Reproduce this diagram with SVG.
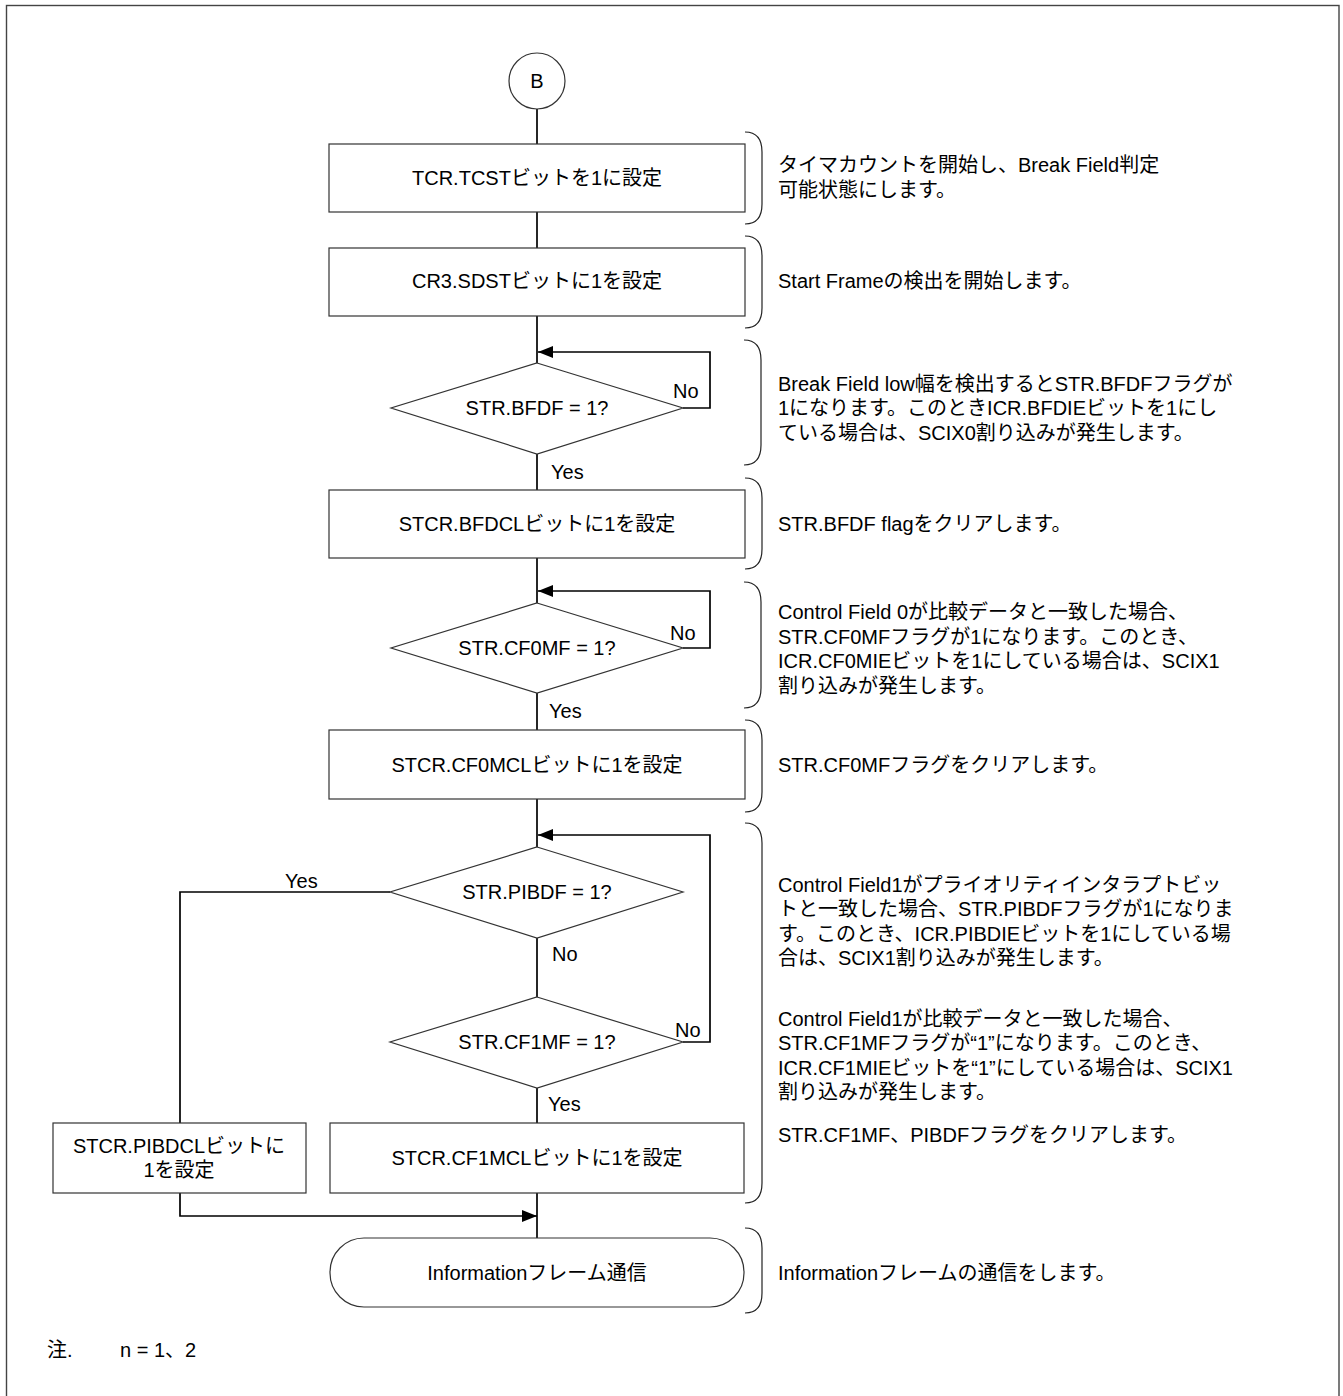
<svg xmlns="http://www.w3.org/2000/svg" width="1343" height="1396" viewBox="0 0 1343 1396">
<defs>
<marker id="arr" markerUnits="userSpaceOnUse" markerWidth="16" markerHeight="12" refX="15" refY="6" orient="auto">
<path d="M0,0 L15,6 L0,12 Z" fill="#000"/>
</marker>
<style>
text{font-family:"Liberation Sans","Noto Sans CJK JP",sans-serif;font-size:20px;fill:#000}
.c{text-anchor:middle}
.shape{fill:#fff;stroke:#333;stroke-width:1.2}
.line{fill:none;stroke:#000;stroke-width:1.7}
.brace{fill:none;stroke:#222;stroke-width:1.2}
.frame{fill:none;stroke:#444;stroke-width:1.4}
</style>
</defs>
<rect class="frame" x="6.5" y="5.5" width="1332.5" height="1420"/>

<g id="connectors">
<line class="line" x1="537" y1="109" x2="537" y2="144"/>
<line class="line" x1="537" y1="212" x2="537" y2="248"/>
<line class="line" x1="537" y1="316" x2="537" y2="363"/>
<line class="line" x1="537" y1="454" x2="537" y2="490"/>
<line class="line" x1="537" y1="558" x2="537" y2="603"/>
<line class="line" x1="537" y1="693" x2="537" y2="730"/>
<line class="line" x1="537" y1="799" x2="537" y2="847"/>
<line class="line" x1="537" y1="938" x2="537" y2="997"/>
<line class="line" x1="537" y1="1088" x2="537" y2="1123"/>
<line class="line" x1="537" y1="1193" x2="537" y2="1238"/>
<path class="line" d="M683,408 H710 V352 H538" marker-end="url(#arr)"/>
<path class="line" d="M683,648 H710 V591 H538" marker-end="url(#arr)"/>
<path class="line" d="M683,1042 H710 V835 H538" marker-end="url(#arr)"/>
<path class="line" d="M390,892 H180 V1123"/>
<path class="line" d="M180,1193 V1216 H537" marker-end="url(#arr)"/>
<text x="673" y="398">No</text>
<text x="551" y="479">Yes</text>
<text x="670" y="640">No</text>
<text x="549" y="718">Yes</text>
<text x="285" y="888">Yes</text>
<text x="552" y="961">No</text>
<text x="675" y="1037">No</text>
<text x="548" y="1111">Yes</text>
</g>

<g id="nodeB">
<circle class="shape" cx="537" cy="81" r="28"/>
<text class="c" x="537" y="88">B</text>
</g>
<g id="n1">
<rect class="shape" x="329" y="144" width="416" height="68"/>
<text class="c" x="537" y="185">TCR.TCSTビットを1に設定</text>
</g>
<g id="n2">
<rect class="shape" x="329" y="248" width="416" height="68"/>
<text class="c" x="537" y="288">CR3.SDSTビットに1を設定</text>
</g>
<g id="d1">
<polygon class="shape" points="537,363 683,408 537,454 391,408"/>
<text class="c" x="537" y="415">STR.BFDF = 1?</text>
</g>
<g id="n3">
<rect class="shape" x="329" y="490" width="416" height="68"/>
<text class="c" x="537" y="531">STCR.BFDCLビットに1を設定</text>
</g>
<g id="d2">
<polygon class="shape" points="537,603 683,648 537,693 391,648"/>
<text class="c" x="537" y="655">STR.CF0MF = 1?</text>
</g>
<g id="n4">
<rect class="shape" x="329" y="730" width="416" height="69"/>
<text class="c" x="537" y="772">STCR.CF0MCLビットに1を設定</text>
</g>
<g id="d3">
<polygon class="shape" points="537,847 683,892 537,938 390,892"/>
<text class="c" x="537" y="899">STR.PIBDF = 1?</text>
</g>
<g id="d4">
<polygon class="shape" points="537,997 683,1042 537,1088 390,1042"/>
<text class="c" x="537" y="1049">STR.CF1MF = 1?</text>
</g>
<g id="n5">
<rect class="shape" x="53" y="1123" width="253" height="70"/>
<text class="c" x="179" y="1153">STCR.PIBDCLビットに</text>
<text class="c" x="179" y="1177">1を設定</text>
</g>
<g id="n6">
<rect class="shape" x="330" y="1123" width="414" height="70"/>
<text class="c" x="537" y="1165">STCR.CF1MCLビットに1を設定</text>
</g>
<g id="n7">
<rect class="shape" x="330" y="1238" width="414" height="69" rx="34" ry="34"/>
<text class="c" x="537" y="1280">Informationフレーム通信</text>
</g>

<g id="notes">
<path class="brace" d="M745,132 Q762,132 762,152 V204 Q762,224 745,224"/>
<path class="brace" d="M745,236 Q762,236 762,256 V308 Q762,328 745,328"/>
<path class="brace" d="M744,340 Q761,340 761,360 V445 Q761,465 744,465"/>
<path class="brace" d="M745,478 Q762,478 762,498 V549 Q762,569 745,569"/>
<path class="brace" d="M744,582 Q761,582 761,602 V688 Q761,708 744,708"/>
<path class="brace" d="M745,720 Q762,720 762,740 V792 Q762,812 745,812"/>
<path class="brace" d="M745,823 Q762,823 762,843 V1183 Q762,1203 745,1203"/>
<path class="brace" d="M745,1228 Q762,1228 762,1248 V1293 Q762,1313 745,1313"/>

<text x="778" y="172">タイマカウントを開始し、Break Field判定</text>
<text x="778" y="197">可能状態にします。</text>
<text x="778" y="288">Start Frameの検出を開始します。</text>
<text x="778" y="391">Break Field low幅を検出するとSTR.BFDFフラグが</text>
<text x="778" y="415">1になります。このときICR.BFDIEビットを1にし</text>
<text x="778" y="440">ている場合は、SCIX0割り込みが発生します。</text>
<text x="778" y="531">STR.BFDF flagをクリアします。</text>
<text x="778" y="619">Control Field 0が比較データと一致した場合、</text>
<text x="778" y="644">STR.CF0MFフラグが1になります。このとき、</text>
<text x="778" y="668">ICR.CF0MIEビットを1にしている場合は、SCIX1</text>
<text x="778" y="693">割り込みが発生します。</text>
<text x="778" y="772">STR.CF0MFフラグをクリアします。</text>
<text x="778" y="892">Control Field1がプライオリティインタラプトビッ</text>
<text x="778" y="916">トと一致した場合、STR.PIBDFフラグが1になりま</text>
<text x="778" y="941">す。このとき、ICR.PIBDIEビットを1にしている場</text>
<text x="778" y="965">合は、SCIX1割り込みが発生します。</text>
<text x="778" y="1026">Control Field1が比較データと一致した場合、</text>
<text x="778" y="1050">STR.CF1MFフラグが“1”になります。このとき、</text>
<text x="778" y="1075">ICR.CF1MIEビットを“1”にしている場合は、SCIX1</text>
<text x="778" y="1099">割り込みが発生します。</text>
<text x="778" y="1142">STR.CF1MF、PIBDFフラグをクリアします。</text>
<text x="778" y="1280">Informationフレームの通信をします。</text>
<text x="47" y="1357">注.</text>
<text x="120" y="1357">n = 1、2</text>
</g>
</svg>
